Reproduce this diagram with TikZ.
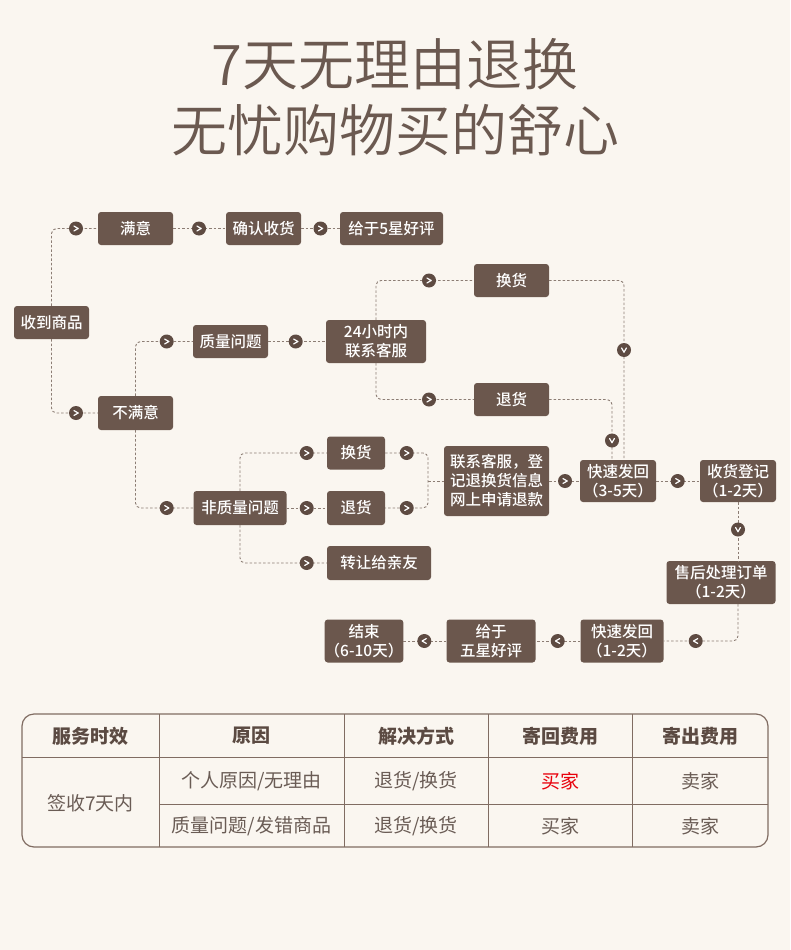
\documentclass[tikz,border=0pt]{standalone}
\usepackage{fontspec}
\newfontfamily\cjk{Noto Sans CJK SC}
\newfontfamily\cjkl{Noto Sans CJK SC DemiLight}
\newfontfamily\cjkm{Noto Sans CJK SC Medium}
\definecolor{bg}{HTML}{FAF6F0}
\definecolor{boxc}{HTML}{6B574D}
\definecolor{mkc}{HTML}{5E4B42}
\definecolor{linec}{HTML}{8C7D74}
\definecolor{titlec}{HTML}{6B5950}
\definecolor{tabline}{HTML}{806C62}
\definecolor{headc}{HTML}{5B4A42}
\definecolor{bodyc}{HTML}{6A5C55}
\definecolor{redc}{HTML}{E8000B}
\begin{document}
\begin{tikzpicture}[x=1pt,y=-1pt,
 fbox/.style={fill=boxc, rounded corners=3pt, text=white, font=\cjkm\fontsize{15.5}{19}\selectfont, align=center, inner sep=0pt, minimum width=75pt, minimum height=33pt},
 dl/.style={draw=linec, line width=0.9pt, dash pattern=on 2.5pt off 2pt, rounded corners=5pt},
 mk/.style={circle, fill=mkc, minimum size=14pt, inner sep=0pt},
 mr/.style={mk, path picture={\draw[white,line width=1.2pt,line cap=round,line join=round] ([shift={(-2pt,2.4pt)}]path picture bounding box.center) -- ++(4.2pt,-2.4pt) -- ++(-4.2pt,-2.4pt);}},
 ml/.style={mk, path picture={\draw[white,line width=1.2pt,line cap=round,line join=round] ([shift={(2pt,2.4pt)}]path picture bounding box.center) -- ++(-4.2pt,-2.4pt) -- ++(4.2pt,-2.4pt);}},
 md/.style={mk, path picture={\draw[white,line width=1.2pt,line cap=round,line join=round] ([shift={(-2.4pt,2pt)}]path picture bounding box.center) -- ++(2.4pt,-4.2pt) -- ++(2.4pt,4.2pt);}},
 tline/.style={draw=tabline, line width=1pt},
 thead/.style={font=\cjk\bfseries\fontsize{19}{22}\selectfont, text=headc},
 tbody/.style={font=\cjk\fontsize{19}{22}\selectfont, text=bodyc}
]
\fill[bg] (0,0) rectangle (790,950);
\useasboundingbox (0,0) rectangle (790,950);

% title
\node[font=\cjkl\fontsize{56}{60}\selectfont, text=titlec] (t1) at (395,64) {7天无理由退换};
\node[font=\cjkl\fontsize{56}{60}\selectfont, text=titlec] (t2) at (395,130) {无忧购物买的舒心};

% boxes
\node[fbox] (sat) at (135.5,228.5) {满意};
\node[fbox] (conf) at (263.5,228.5) {确认收货};
\node[fbox, minimum width=103pt] (five) at (391.5,228.5) {给于5星好评};
\node[fbox] (recv) at (51.5,322.5) {收到商品};
\node[fbox] (qual) at (230.5,341.5) {质量问题};
\node[fbox, minimum width=100pt, minimum height=43pt] (cs24) at (376,341.5) {24小时内\\联系客服};
\node[fbox, minimum height=34pt] (unsat) at (135.5,413) {不满意};
\node[fbox] (ex1) at (511.5,280.5) {换货};
\node[fbox] (rt1) at (511.5,399.5) {退货};
\node[fbox, minimum width=58pt] (ex2) at (356,453) {换货};
\node[fbox, minimum width=93pt, minimum height=34pt] (nq) at (240,508) {非质量问题};
\node[fbox, minimum width=58pt, minimum height=34pt] (rt2) at (356,508) {退货};
\node[fbox, minimum width=104pt, minimum height=34pt] (gift) at (379,563) {转让给亲友};
\node[fbox, minimum width=105pt, minimum height=70pt] (reg) at (496.5,481) {联系客服，登\\记退换货信息\\网上申请退款};
\node[fbox, minimum width=76pt, minimum height=42pt] (fast1) at (618,481) {快速发回\\（3-5天）};
\node[fbox, minimum width=76pt, minimum height=42pt] (rcv2) at (738,481) {收货登记\\（1-2天）};
\node[fbox, minimum width=109pt, minimum height=43pt] (after) at (721,582.5) {售后处理订单\\（1-2天）};
\node[fbox, minimum width=83pt, minimum height=43pt] (fast2) at (622,641) {快速发回\\（1-2天）};
\node[fbox, minimum width=89pt, minimum height=43pt] (give5) at (491,641) {给于\\五星好评};
\node[fbox, minimum height=43pt] (endn) at (364,641) {结束\\（6-10天）};

% helper coordinates
\coordinate (fa) at (624,460);
\coordinate (fb) at (612,460);
\coordinate (jn) at (428,481);
\coordinate (ra) at (738,561);
\coordinate (rb) at (738,604);

% connectors
\draw[dl] (recv.north) |- (sat.west);
\draw[dl] (recv.south) |- (unsat.west);
\draw[dl] (sat) -- (conf);
\draw[dl] (conf) -- (five);
\draw[dl] (unsat.north) |- (qual.west);
\draw[dl] (unsat.south) |- (nq.west);
\draw[dl] (qual) -- (cs24);
\draw[dl] (cs24.north) |- (ex1.west);
\draw[dl] (cs24.south) |- (rt1.west);
\draw[dl] (ex1.east) -| (fa);
\draw[dl] (rt1.east) -| (fb);
\draw[dl] (nq.north) |- (ex2.west);
\draw[dl] (nq) -- (rt2);
\draw[dl] (nq.south) |- (gift.west);
\draw[dl] (ex2.east) -| (jn) |- (rt2.east);
\draw[dl] (jn) -- (reg.west);
\draw[dl] (reg) -- (fast1);
\draw[dl] (fast1) -- (rcv2);
\draw[dl] (rcv2.south) -- (ra);
\draw[dl] (rb) |- (fast2.east);
\draw[dl] (fast2) -- (give5);
\draw[dl] (give5) -- (endn);

% markers
\node[mr] (m1) at (76,228.5) {};
\node[mr] (m2) at (76,413) {};
\node[mr] (m3) at (199,228.5) {};
\node[mr] (m4) at (320.5,228.5) {};
\node[mr] (m5) at (166.7,341.5) {};
\node[mr] (m6) at (166.7,508) {};
\node[mr] (m7) at (295.7,341.5) {};
\node[mr] (m8) at (429,280.5) {};
\node[mr] (m9) at (429,399.5) {};
\node[md] (m10) at (624,350) {};
\node[md] (m11) at (612,440.5) {};
\node[mr] (m12) at (306.7,453) {};
\node[mr] (m13) at (306.7,508) {};
\node[mr] (m14) at (306.7,563) {};
\node[mr] (m15) at (406.7,453) {};
\node[mr] (m16) at (406.7,508) {};
\node[mr] (m17) at (565,481) {};
\node[mr] (m18) at (677.7,481) {};
\node[md] (m19) at (738,529.5) {};
\node[ml] (m20) at (695.7,641) {};
\node[ml] (m21) at (557.7,641) {};
\node[ml] (m22) at (424.3,641) {};

% table
\draw[draw=tabline, line width=1.2pt, rounded corners=12pt] (22,714) rectangle (768,847);
\draw[tline] (22,757) -- (768,757);
\draw[tline] (159,804) -- (768,804);
\foreach \xx in {159,344,488,632} \draw[tline] (\xx,714) -- (\xx,847);

\node[thead] (h1) at (90.5,736) {服务时效};
\node[thead] (h2) at (251.5,736) {原因};
\node[thead] (h3) at (416,736) {解决方式};
\node[thead] (h4) at (560,736) {寄回费用};
\node[thead] (h5) at (700,736) {寄出费用};
\node[tbody] (c1) at (90.5,803) {签收7天内};
\node[tbody] (r1a) at (251.5,781) {个人原因/无理由};
\node[tbody] (r1b) at (416,781) {退货/换货};
\node[tbody, text=redc] (r1c) at (560,781) {买家};
\node[tbody] (r1d) at (700,781) {卖家};
\node[tbody] (r2a) at (251.5,826) {质量问题/发错商品};
\node[tbody] (r2b) at (416,826) {退货/换货};
\node[tbody] (r2c) at (560,826) {买家};
\node[tbody] (r2d) at (700,826) {卖家};
\end{tikzpicture}
\end{document}
